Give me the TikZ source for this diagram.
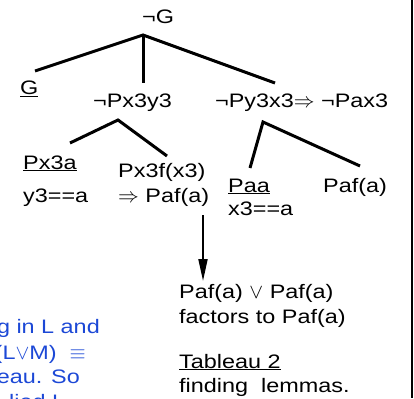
\documentclass[tikz,border=0pt]{standalone}
\usepackage{fontspec}
\setmainfont{Liberation Sans}[FakeStretch=1.2]
\usetikzlibrary{arrows.meta}
\definecolor{noteblue}{RGB}{28,72,214}
\tikzset{
  lbl/.style={inner sep=0pt, anchor=base west},
  note/.style={inner sep=0pt, anchor=base east, text=noteblue},
  branch/.style={line width=3pt},
}

\begin{document}
\begin{tikzpicture}[x=1pt, y=-1pt]
			%%%%% START %%%%%
			\useasboundingbox (0, 0) rectangle (414, 398);
			\clip (0, 0) rectangle (414, 398);
			\fontsize{19.5}{24}\selectfont
			
			\draw[line width=2pt] (412, 0) -- (412, 398);
			
			% tableau
			\node[lbl] (notG) at (142, 24) {¬G};
			\node[lbl] (G) at (20, 95) {\underline{G}};
			\node[lbl] (notPxy) at (93, 108) {¬Px3y3};
			\node[lbl] (notPyx) at (215, 108) {¬Py3x3$\Rightarrow$ ¬Pax3};
			
			\coordinate (topA) at (143, 35);
			\coordinate (endG) at (35, 71);
			\coordinate (endPxy) at (143, 83);
			\coordinate (endPyx) at (275, 83);
			\draw[branch] (endG) -- (topA) -- (endPyx);
			\draw[branch] (topA) -- (endPxy);
			
			\node[lbl] (Pxa) at (23, 169) {\underline{Px3a}};
			\node[lbl] (yeq) at (23, 202) {y3==a};
			\node[lbl] (Pxf) at (118, 177) {Px3f(x3)};
			\node[lbl] (impPaf) at (118, 202) {$\Rightarrow$ Paf(a)};
			
			\coordinate (topB) at (118, 120);
			\coordinate (endPxa) at (70, 143);
			\coordinate (endPxf) at (167, 156);
			\draw[branch] (endPxa) -- (topB) -- (endPxf);
			
			\node[lbl] (Paa) at (228, 192) {\underline{Paa}};
			\node[lbl] (xeq) at (228, 215) {x3==a};
			\node[lbl] (Paf) at (323, 192) {Paf(a)};
			
			\coordinate (topC) at (263, 122);
			\coordinate (endPaa) at (250, 168);
			\coordinate (endPaf) at (360, 166);
			\draw[branch] (endPaa) -- (topC) -- (endPaf);
			
			% lemma
			\node[lbl] (orPaf) at (179, 298) {Paf(a) $\vee$ Paf(a)};
			\node[lbl] (factors) at (179, 323) {factors to Paf(a)};
			\node[lbl] (tab) at (179, 368) {\underline{Tableau 2}};
			\node[lbl] (finding) at (179, 392) {finding\ \ lemmas.};
			
			\coordinate (arrStart) at (203, 215);
			\coordinate (arrEnd) at (203, 281);
			\draw[line width=2pt, -{Triangle[length=22pt, width=9pt]}] (arrStart) -- (arrEnd);
			
			% side note
			\node[note] (noteA) at (100, 333) {g in L and};
			\node[note] (noteB) at (86, 359) {(L$\vee$M)\ \ $\equiv$};
			\node[note] (noteC) at (80, 383) {eau. So};
			\node[note, anchor=base west] (noteD) at (9, 408) {lied L};
			%%%%% END %%%%%
\end{tikzpicture}
\end{document}
